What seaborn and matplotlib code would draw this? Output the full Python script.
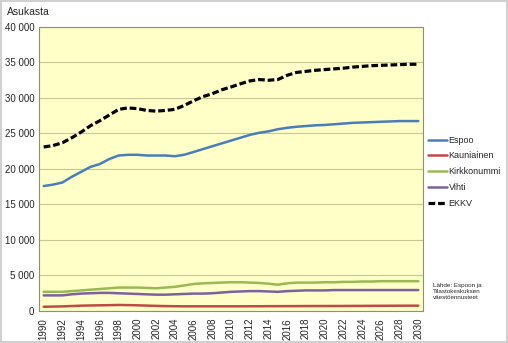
import matplotlib
matplotlib.use("Agg")
import matplotlib.pyplot as plt
import seaborn as sns
import pandas as pd
from matplotlib.ticker import FuncFormatter, MultipleLocator
from matplotlib.lines import Line2D

years = list(range(1990, 2031))
espoo = [17600, 17800, 18100, 18900, 19600, 20300, 20700, 21400, 21900, 22000,
         22000, 21900, 21900, 21900, 21800, 22000, 22400, 22800, 23200, 23600,
         24000, 24400, 24800, 25100, 25300, 25600, 25800, 25950, 26050, 26150,
         26200, 26300, 26400, 26500, 26550, 26600, 26650, 26700, 26750, 26750, 26750]
kauniainen = [600, 620, 650, 700, 750, 780, 800, 820, 850, 830,
              800, 760, 720, 690, 670, 660, 660, 660, 660, 660,
              660, 660, 665, 670, 675, 680, 685, 690, 695, 700,
              700, 705, 710, 715, 720, 730, 735, 740, 745, 750, 750]
kirkkonummi = [2700, 2700, 2700, 2800, 2900, 3000, 3100, 3200, 3300, 3300,
               3300, 3250, 3200, 3300, 3400, 3600, 3800, 3900, 3950, 4000,
               4050, 4050, 4000, 3950, 3850, 3700, 3900, 4000, 4000, 4000,
               4050, 4050, 4100, 4100, 4150, 4150, 4200, 4200, 4200, 4200, 4200]
vihti = [2200, 2200, 2200, 2350, 2450, 2500, 2550, 2550, 2500, 2450,
         2400, 2350, 2300, 2300, 2350, 2400, 2450, 2450, 2500, 2600,
         2700, 2750, 2800, 2800, 2750, 2700, 2800, 2850, 2900, 2900,
         2900, 2950, 2950, 2950, 2950, 2950, 2950, 2950, 2950, 2950, 2950]
ekkv = [23100, 23300, 23700, 24400, 25200, 26100, 26800, 27600, 28400, 28600,
        28500, 28250, 28150, 28250, 28400, 28950, 29600, 30200, 30600, 31150,
        31550, 32000, 32400, 32600, 32500, 32600, 33200, 33600, 33750, 33900,
        34000, 34100, 34200, 34350, 34450, 34550, 34600, 34650, 34700, 34750, 34750]

series_names = ["Espoo", "Kauniainen", "Kirkkonummi", "Vihti", "EKKV"]
series_values = [espoo, kauniainen, kirkkonummi, vihti, ekkv]
colors = ["#4A7EBB", "#BE4B48", "#98B954", "#7D60A0", "#000000"]

rows = []
for name, vals in zip(series_names, series_values):
    for y, v in zip(years, vals):
        rows.append({"Vuosi": y, "Asukasta": v, "Sarja": name})
df = pd.DataFrame(rows)

sns.set_style("white")
plt.rcParams["font.family"] = ["Liberation Sans", "DejaVu Sans"]

fig = plt.figure(figsize=(5.08, 3.43), dpi=100)
fig.patch.set_facecolor("white")
ax = fig.add_axes([0.0768, 0.0933, 0.7559, 0.828])
ax.set_facecolor("#FFFFC8")

palette = dict(zip(series_names, colors))
ekkv_dash = (2.1, 0.9)
dashes = {n: "" for n in series_names}
dashes["EKKV"] = ekkv_dash
sizes = {n: 1.8 for n in series_names}
sizes["EKKV"] = 2.3
sns.lineplot(data=df, x="Vuosi", y="Asukasta", hue="Sarja", style="Sarja",
             size="Sarja", sizes=sizes,
             palette=palette, dashes=dashes, ax=ax, legend=False)

ax.set_xlim(1989.5, 2030.5)
ax.set_ylim(0, 40000)
ax.yaxis.set_major_locator(MultipleLocator(5000))
ax.yaxis.set_major_formatter(FuncFormatter(lambda v, p: f"{int(v):,}".replace(",", " ")))
ax.set_xticks(years[::2])
ax.set_xticks(years, minor=True)
ax.set_xticklabels([str(y) for y in years[::2]], rotation=90)
ax.tick_params(axis="x", which="both", direction="out", length=3, color="#888888",
               labelsize=7, pad=2)
ax.tick_params(axis="y", which="both", direction="out", length=2, color="#888888",
               labelsize=7, pad=1.5)
ax.grid(axis="y", color="#C8C896", linewidth=0.8)
ax.set_axisbelow(True)
for s in ax.spines.values():
    s.set_color("#8C8C8C")
    s.set_linewidth(0.8)
ax.set_xlabel("")
ax.set_ylabel("")

fig.text(0.014, 0.965, "Asukasta", fontsize=7.5, va="center", ha="left")

handles = []
for n, c in zip(series_names, colors):
    if n == "EKKV":
        handles.append(Line2D([], [], color=c, linewidth=2.3, dashes=ekkv_dash))
    else:
        handles.append(Line2D([], [], color=c, linewidth=1.8))
fig.legend(handles, series_names, loc="upper left", bbox_to_anchor=(0.835, 0.615),
           frameon=False, fontsize=6.5, handlelength=2.1, handletextpad=0.2,
           labelspacing=0.75, borderaxespad=0)

fig.text(0.852, 0.15, "Lähde: Espoon ja\nTilastokeskuksen\nväestöennusteet",
         fontsize=4.5, ha="left", va="center", linespacing=1.3)

fig.add_artist(plt.Rectangle((0.002, 0.003), 0.996, 0.993, transform=fig.transFigure,
                             fill=False, edgecolor="#D0D0D0", linewidth=1.5))

fig.savefig("out.png", dpi=100)
